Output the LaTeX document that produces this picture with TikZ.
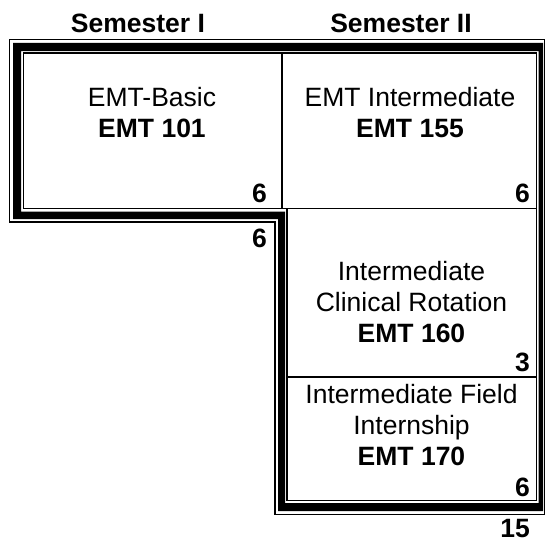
\documentclass[tikz,border=0pt]{standalone}
\usepackage{fontspec}
\setmainfont{Liberation Sans}
\begin{document}
\begin{tikzpicture}[x=1pt,y=-1pt,
	every node/.style={font=\fontsize{26.5}{31}\selectfont, inner sep=0pt, align=center},
	rule/.style={line width=1.3pt},
	credit/.style={anchor=east, font=\fontsize{26.5}{31}\selectfont\bfseries}]
	\useasboundingbox (0,0) rectangle (545,543);

	\node[font=\fontsize{26.5}{31}\selectfont\bfseries] (sem1) at (138,23) {Semester I};
	\node[font=\fontsize{26.5}{31}\selectfont\bfseries] (sem2) at (401,23) {Semester II};

	\fill[even odd rule] (13,43) -- (543,43) -- (543,511) -- (278,511) -- (278,219) -- (13,219) -- cycle
	(21,51) -- (538.5,51) -- (538.5,503) -- (285,503) -- (285,211.5) -- (21,211.5) -- cycle;
	\draw[rule] (9.5,39.5) -- (544.5,39.5) -- (544.5,514.5) -- (275,514.5) -- (275,222) -- (9.5,222) -- cycle;
	\draw[rule] (23.5,53) -- (536.5,53) -- (536.5,500.5) -- (287,500.5) -- (287,208.5) -- (23.5,208.5) -- cycle;
	\draw[rule] (282,53) -- (282,208.5)
	(23.5,208.5) -- (536.5,208.5)
	(287,377) -- (536.5,377);

	\node (basic) at (152,113) {EMT-Basic\\\textbf{EMT 101}};
	\node (inter) at (410,113) {EMT Intermediate\\\textbf{EMT 155}};
	\node (clinic) at (411.5,302) {Intermediate\\Clinical Rotation\\\textbf{EMT 160}};
	\node (field) at (411.5,425) {Intermediate Field\\Internship\\\textbf{EMT 170}};

	\node[credit] (cr1) at (267,193) {6};
	\node[credit] (cr2) at (530,193) {6};
	\node[credit] (tot1) at (267,238.5) {6};
	\node[credit] (cr3) at (530,362) {3};
	\node[credit] (cr4) at (530,487.5) {6};
	\node[credit] (tot2) at (530,528.5) {15};
\end{tikzpicture}
\end{document}
